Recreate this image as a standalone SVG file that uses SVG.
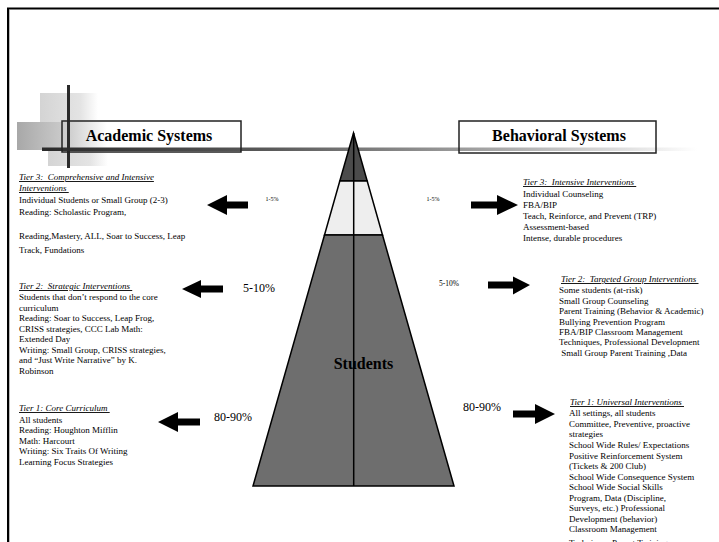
<svg xmlns="http://www.w3.org/2000/svg" width="719" height="542" viewBox="0 0 719 542">
<style>
  text { font-family: "Liberation Serif", "Times New Roman", serif; fill: #000; }
  .t { font-size: 9px; }
  .h { font-size: 9px; font-style: italic; text-decoration: underline; }
  .title { font-size: 16px; font-weight: bold; }
  .big { font-size: 12px; }
  .sm { font-size: 6px; }
  .box { fill: none; stroke: #222; stroke-width: 1.5; }
  .arrow { fill: #000; }
  .band { stroke: #000; stroke-width: 1.5; stroke-linejoin: miter; }
</style>
<defs>
  <linearGradient id="barG" x1="0" y1="0" x2="1" y2="0">
    <stop offset="0" stop-color="#2a2a2a"/>
    <stop offset="0.35" stop-color="#5a5a5a"/>
    <stop offset="0.7" stop-color="#a8a8a8"/>
    <stop offset="1" stop-color="#ffffff"/>
  </linearGradient>
  <linearGradient id="sqL" x1="0" y1="0" x2="1" y2="0">
    <stop offset="0" stop-color="#d4d4d4"/>
    <stop offset="0.7" stop-color="#e4e4e4"/>
    <stop offset="1" stop-color="#ffffff"/>
  </linearGradient>
  <linearGradient id="sqM" x1="0" y1="0" x2="1" y2="0">
    <stop offset="0" stop-color="#a8a8a8"/>
    <stop offset="0.6" stop-color="#d0d0d0"/>
    <stop offset="1" stop-color="#ffffff"/>
  </linearGradient>
</defs>

<!-- frame -->
<g id="frame">
  <line x1="7" y1="8.5" x2="719" y2="8.5" stroke="#000" stroke-width="2"/>
  <line x1="8" y1="8" x2="8" y2="542" stroke="#000" stroke-width="2"/>
  <line x1="9.5" y1="10" x2="9.5" y2="542" stroke="#bbb" stroke-width="1"/>
</g>

<!-- decoration -->
<g id="decoration">
  <rect x="40" y="93" width="58" height="29" fill="url(#sqL)"/>
  <rect x="17" y="122" width="90" height="28" fill="url(#sqM)"/>
  <rect x="48" y="151" width="60" height="15" fill="url(#sqL)"/>
  <rect x="42" y="147.5" width="655" height="3.5" fill="url(#barG)"/>
  <rect x="67" y="85" width="3" height="83" fill="#2a2a2a"/>
</g>

<g id="academic-title">
  <rect class="box" x="62" y="121" width="179" height="31"/>
  <text class="title" x="149" y="141" text-anchor="middle">Academic Systems</text>
</g>
<g id="behavioral-title">
  <rect class="box" x="459" y="121" width="197" height="32"/>
  <text class="title" x="559" y="141" text-anchor="middle">Behavioral Systems</text>
</g>

<!-- pyramid -->
<g id="pyramid">
  <polygon class="band" points="353.5,133 367.2,181 339.8,181" fill="#4b4b4b"/>
  <polygon class="band" points="339.8,181 367.2,181 382.5,235 324.5,235" fill="#eeeeee"/>
  <polygon class="band" points="324.5,235 382.5,235 454,486 253,486" fill="#6e6e6e"/>
  <line x1="353.7" y1="133" x2="353.7" y2="486" stroke="#000" stroke-width="1.5"/>
  <text class="title" x="363.5" y="369" text-anchor="middle">Students</text>
</g>

<!-- connectors (block arrows) -->
<g id="connectors">
  <polygon class="arrow" points="207,205 227,195 227,201.5 248,201.5 248,208.5 227,208.5 227,215"/>
  <polygon class="arrow" points="182,289 201,280 201,285.5 223,285.5 223,292.5 201,292.5 201,298"/>
  <polygon class="arrow" points="158,422 178,412 178,418.5 200,418.5 200,425.5 178,425.5 178,432"/>
  <polygon class="arrow" points="518,205 497,195 497,201.5 471,201.5 471,208.5 497,208.5 497,215"/>
  <polygon class="arrow" points="530,285 513,276.5 513,281.5 488,281.5 488,288.5 513,288.5 513,294.5"/>
  <polygon class="arrow" points="555,414 535,404 535,410.5 513,410.5 513,417.5 535,417.5 535,424"/>
</g>

<!-- percentage labels -->
<g id="percent-labels">
  <text class="sm" x="265.5" y="200.5">1-5%</text>
  <text class="big" x="243" y="292">5-10%</text>
  <text class="big" x="214" y="421">80-90%</text>
  <text class="sm" x="426.5" y="200.5">1-5%</text>
  <text x="439" y="286" style="font-size:7.5px">5-10%</text>
  <text class="big" x="463" y="411">80-90%</text>
</g>

<g id="academic-tier3">
  <text class="h" x="19" y="180" xml:space="preserve">Tier 3:  Comprehensive and Intensive</text>
  <text class="h" x="19" y="191" xml:space="preserve">Interventions </text>
  <text class="t" x="19" y="203">Individual Students or Small Group (2-3)</text>
  <text class="t" x="19" y="215">Reading: Scholastic Program,</text>
  <text class="t" x="19" y="239">Reading,Mastery, ALL, Soar to Success, Leap</text>
  <text class="t" x="19" y="253">Track, Fundations</text>
</g>

<g id="academic-tier2">
  <text class="h" x="19" y="289" xml:space="preserve">Tier 2:  Strategic Interventions </text>
  <text class="t" x="19" y="300">Students that don’t respond to the core</text>
  <text class="t" x="19" y="310.5">curriculum</text>
  <text class="t" x="19" y="321">Reading: Soar to Success, Leap Frog,</text>
  <text class="t" x="19" y="331.5">CRISS strategies, CCC Lab Math:</text>
  <text class="t" x="19" y="342">Extended Day</text>
  <text class="t" x="19" y="352.5">Writing: Small Group, CRISS strategies,</text>
  <text class="t" x="19" y="363">and “Just Write Narrative” by K.</text>
  <text class="t" x="19" y="373.5">Robinson</text>
</g>

<g id="academic-tier1">
  <text class="h" x="19" y="411" xml:space="preserve">Tier 1: Core Curriculum </text>
  <text class="t" x="19" y="422.5">All students</text>
  <text class="t" x="19" y="433">Reading: Houghton Mifflin</text>
  <text class="t" x="19" y="443.5">Math: Harcourt</text>
  <text class="t" x="19" y="454">Writing: Six Traits Of Writing</text>
  <text class="t" x="19" y="464.5">Learning Focus Strategies</text>
</g>

<g id="behavioral-tier3">
  <text class="h" x="523" y="185" xml:space="preserve">Tier 3:  Intensive Interventions </text>
  <text class="t" x="523" y="197">Individual Counseling</text>
  <text class="t" x="523" y="208">FBA/BIP</text>
  <text class="t" x="523" y="219">Teach, Reinforce, and Prevent (TRP)</text>
  <text class="t" x="523" y="230">Assessment-based</text>
  <text class="t" x="523" y="241">Intense, durable procedures</text>
</g>

<g id="behavioral-tier2">
  <text class="h" x="561" y="282" xml:space="preserve">Tier 2:  Targeted Group Interventions </text>
  <text class="t" x="559" y="293">Some students (at-risk)</text>
  <text class="t" x="559" y="303.5">Small Group Counseling</text>
  <text class="t" x="559" y="314">Parent Training (Behavior &amp; Academic)</text>
  <text class="t" x="559" y="324.5">Bullying Prevention Program</text>
  <text class="t" x="559" y="335">FBA/BIP Classroom Management</text>
  <text class="t" x="559" y="345">Techniques, Professional Development</text>
  <text class="t" x="559" y="355.5" xml:space="preserve"> Small Group Parent Training ,Data</text>
</g>

<g id="behavioral-tier1">
  <text class="h" x="570" y="405" xml:space="preserve">Tier 1: Universal Interventions </text>
  <text class="t" x="569" y="416">All settings, all students</text>
  <text class="t" x="569" y="427">Committee, Preventive, proactive</text>
  <text class="t" x="569" y="436.5">strategies</text>
  <text class="t" x="569" y="447.5">School Wide Rules/ Expectations</text>
  <text class="t" x="569" y="458.5">Positive Reinforcement System</text>
  <text class="t" x="569" y="469">(Tickets &amp; 200 Club)</text>
  <text class="t" x="569" y="479.5">School Wide Consequence System</text>
  <text class="t" x="569" y="489.5">School Wide Social Skills</text>
  <text class="t" x="569" y="500.5">Program, Data (Discipline,</text>
  <text class="t" x="569" y="511">Surveys, etc.) Professional</text>
  <text class="t" x="569" y="521.5">Development (behavior)</text>
  <text class="t" x="569" y="532">Classroom Management</text>
  <text class="t" x="569" y="545.5">Techniques Parent Training</text>
</g>
</svg>
